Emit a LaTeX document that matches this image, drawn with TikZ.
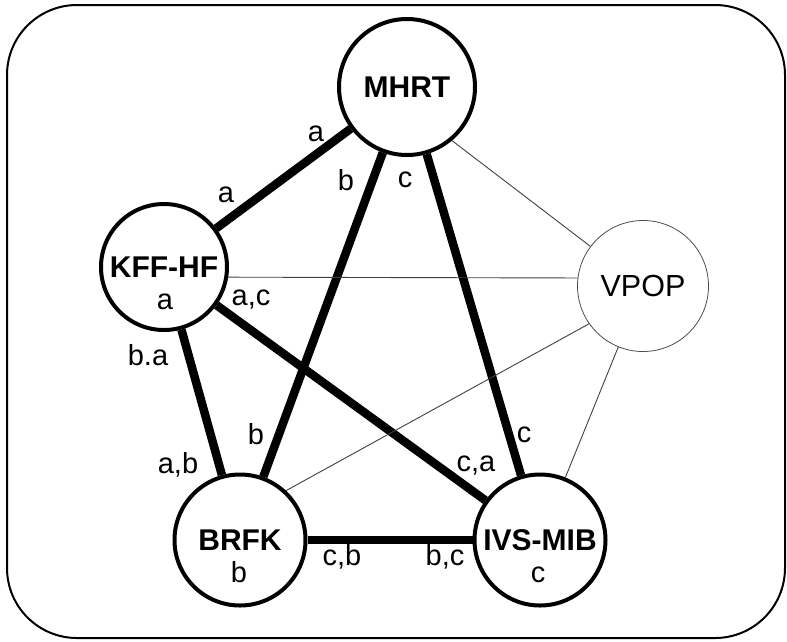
\documentclass[tikz,border=0pt]{standalone}
\usepackage{fontspec}
\setmainfont{Liberation Sans}
\usetikzlibrary{positioning}

\begin{document}
\begin{tikzpicture}[x=1pt,y=-1pt,
  party/.style={circle,draw,line width=4pt,minimum size=131pt,inner sep=0pt,
    font=\fontsize{30}{35}\selectfont\bfseries},
  outsider/.style={circle,draw=black!70,line width=0.8pt,minimum size=131pt,inner sep=0pt,
    font=\fontsize{30.5}{36}\selectfont},
  tie/.style={line width=8.5pt},
  weak/.style={draw=black!75,line width=0.9pt},
  tag/.style={inner sep=0pt,font=\fontsize{29}{34}\selectfont}]
\useasboundingbox (0,0) rectangle (787,641);
\draw[line width=2pt,rounded corners=70pt] (7,5) rectangle (785,638);

% the five parties
\node [party,minimum size=136pt] (m) at (407,87) {MHRT};
\node [party,minimum size=126pt] (k) at (164,267) {KFF-HF};
\node [outsider] (v) at (643,286) {VPOP};
\node [party] (b) at (240,540) {BRFK};
\node [party] (i) at (540,540) {IVS-MIB};
\node [tag] (ka) at (165,302) {a};
\node [tag] (bb) at (239,572) {b};
\node [tag] (ic) at (538,575) {c};

% strong ties
\draw [tie] (m) -- (k);
\draw [tie] (m) -- (b);
\draw [tie] (m) -- (i);
\draw [tie] (k) -- (b);
\draw [tie] (k) -- (i);
\draw [tie] (b) -- (i);

% weak ties to VPOP
\draw [weak] (m.-50) -- (v.143);
\draw [weak] (k.-9) -- (v.173);
\draw [weak] (b.47) -- (v.215);
\draw [weak] (i) -- (v);

% letters at the ends of the ties
\node [tag] (mk1) at (316,134) {a};
\node [tag] (mk2) at (226,195) {a};
\node [tag] (mb1) at (346,180) {b};
\node [tag] (mb2) at (256,434) {b};
\node [tag] (mi1) at (405,180) {c};
\node [tag] (mi2) at (524,435) {c};
\node [tag] (kb1) at (148,355) {b.a};
\node [tag] (kb2) at (178,465) {a,b};
\node [tag] (ki1) at (251,300) {a,c};
\node [tag] (ki2) at (476,466) {c,a};
\node [tag] (bi1) at (342,557) {c,b};
\node [tag] (bi2) at (445,557) {b,c};
\end{tikzpicture}
\end{document}
